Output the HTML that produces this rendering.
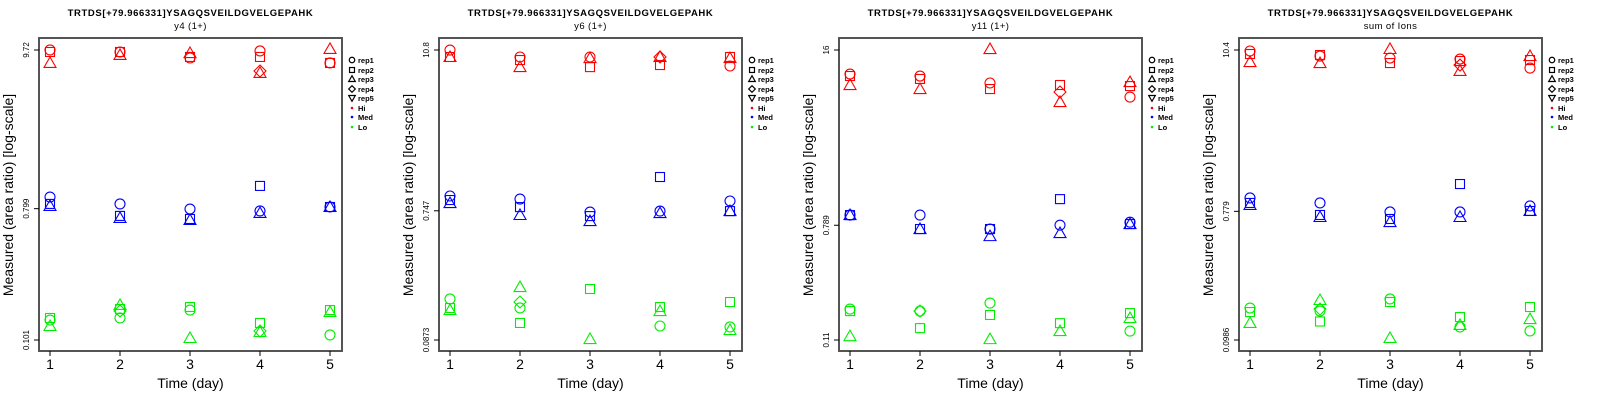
<!DOCTYPE html>
<html><head><meta charset="utf-8"><style>
html,body{margin:0;padding:0;background:#fff;}
svg{display:block;font-family:"Liberation Sans",sans-serif;}
</style></head><body>
<svg id="chart" width="1600" height="400"></svg>
<script>
const days=[1,2,3,4,5];
const repNames=["rep1","rep2","rep3","rep4","rep5"];
const groupNames=["Hi","Med","Lo"];
const titles=["y4 (1+)","y6 (1+)","y11 (1+)","sum of Ions"];
const tickLabels=[["9.72","0.799","0.101"],["10.8","0.747","0.0873"],["16","0.789","0.11"],["10.4","0.779","0.0986"]];
const tickValues=[[9.72,0.799,0.101],[10.8,0.747,0.0873],[16,0.789,0.11],[10.4,0.779,0.0986]];
// [day, rep index, group index, log10(ratio)]
const panel1=[[1,0,0,0.988],[1,1,0,0.974],[1,2,0,0.899],[2,1,0,0.974],[2,2,0,0.954],[2,0,0,0.974],[3,2,0,0.967],[3,1,0,0.940],[3,0,0,0.933],[4,0,0,0.981],[4,1,0,0.940],[4,3,0,0.844],[4,2,0,0.831],[5,2,0,0.995],[5,1,0,0.899],[5,0,0,0.899],
[1,0,1,-0.018],[1,1,1,-0.065],[1,2,1,-0.079],[2,0,1,-0.065],[2,1,1,-0.147],[2,2,1,-0.161],[3,0,1,-0.100],[3,1,1,-0.168],[3,2,1,-0.175],[4,1,1,0.058],[4,0,1,-0.113],[4,2,1,-0.127],[5,0,1,-0.086],[5,1,1,-0.086],[5,2,1,-0.086],
[1,1,2,-0.845],[1,0,2,-0.859],[1,2,2,-0.900],[2,2,2,-0.756],[2,1,2,-0.784],[2,3,2,-0.797],[2,0,2,-0.845],[3,1,2,-0.770],[3,0,2,-0.791],[3,2,2,-0.982],[4,1,2,-0.879],[4,3,2,-0.934],[4,2,2,-0.941],[5,1,2,-0.791],[5,2,2,-0.804],[5,0,2,-0.961]];
const panel2=[[1,0,0,1.033],[1,2,0,0.983],[1,1,0,0.983],[2,0,0,0.983],[2,1,0,0.961],[2,2,0,0.910],[3,0,0,0.983],[3,2,0,0.975],[3,1,0,0.910],[4,3,0,0.983],[4,2,0,0.983],[4,1,0,0.925],[5,1,0,0.983],[5,2,0,0.975],[5,0,0,0.918],
[1,0,1,-0.020],[1,1,1,-0.049],[1,2,1,-0.071],[2,0,1,-0.042],[2,1,1,-0.100],[2,2,1,-0.157],[3,0,1,-0.136],[3,1,1,-0.165],[3,2,1,-0.201],[4,1,1,0.117],[4,0,1,-0.129],[4,2,1,-0.143],[5,0,1,-0.056],[5,1,1,-0.129],[5,2,1,-0.129],
[1,0,2,-0.763],[1,1,2,-0.828],[1,2,2,-0.843],[2,2,2,-0.677],[2,3,2,-0.785],[2,0,2,-0.828],[2,1,2,-0.936],[3,1,2,-0.691],[3,2,2,-1.052],[4,1,2,-0.821],[4,2,2,-0.850],[4,0,2,-0.958],[5,1,2,-0.785],[5,0,2,-0.965],[5,2,2,-0.987]];
const panel3=[[1,0,0,1.025],[1,1,0,1.010],[1,2,0,0.943],[2,0,0,1.010],[2,1,0,0.988],[2,2,0,0.913],[3,2,0,1.211],[3,0,0,0.958],[3,1,0,0.913],[4,1,0,0.943],[4,3,0,0.891],[4,2,0,0.816],[5,2,0,0.965],[5,1,0,0.935],[5,0,0,0.853],
[1,0,1,-0.027],[1,1,1,-0.027],[1,2,1,-0.027],[2,0,1,-0.027],[2,1,1,-0.131],[2,2,1,-0.131],[3,1,1,-0.131],[3,0,1,-0.131],[3,2,1,-0.184],[4,1,1,0.092],[4,0,1,-0.102],[4,2,1,-0.161],[5,0,1,-0.080],[5,1,1,-0.094],[5,2,1,-0.094],
[1,0,2,-0.728],[1,1,2,-0.743],[1,2,2,-0.930],[2,0,2,-0.743],[2,3,2,-0.743],[2,1,2,-0.870],[3,0,2,-0.683],[3,1,2,-0.772],[3,2,2,-0.952],[4,1,2,-0.833],[4,2,2,-0.892],[5,1,2,-0.758],[5,2,2,-0.795],[5,0,2,-0.892]];
const panel4=[[1,0,0,1.010],[1,1,0,0.989],[1,2,0,0.933],[2,1,0,0.982],[2,0,0,0.975],[2,2,0,0.926],[3,2,0,1.024],[3,0,0,0.961],[3,1,0,0.926],[4,0,0,0.954],[4,1,0,0.940],[4,3,0,0.912],[4,2,0,0.871],[5,2,0,0.975],[5,1,0,0.947],[5,0,0,0.891],
[1,0,1,-0.015],[1,1,1,-0.050],[1,2,1,-0.064],[2,0,1,-0.050],[2,1,1,-0.134],[2,2,1,-0.148],[3,0,1,-0.113],[3,1,1,-0.162],[3,2,1,-0.183],[4,1,1,0.082],[4,0,1,-0.113],[4,2,1,-0.148],[5,0,1,-0.071],[5,1,1,-0.106],[5,2,1,-0.106],
[1,0,2,-0.783],[1,1,2,-0.811],[1,2,2,-0.887],[2,2,2,-0.727],[2,3,2,-0.790],[2,0,2,-0.804],[2,1,2,-0.877],[3,0,2,-0.720],[3,1,2,-0.741],[3,2,2,-0.992],[4,1,2,-0.846],[4,2,2,-0.901],[4,0,2,-0.915],[5,1,2,-0.776],[5,2,2,-0.860],[5,0,2,-0.943]];
const panels=[panel1,panel2,panel3,panel4];

const colors=["#ff0000","#0000ff","#00ee00"];
const NS="http://www.w3.org/2000/svg";
const svg=document.getElementById("chart");
function mk(tag,attrs,parent,text){const e=document.createElementNS(NS,tag);for(const k in attrs)e.setAttribute(k,attrs[k]);if(text!==undefined)e.textContent=text;parent.appendChild(e);return e;}
function shape(rep,cx,cy,col,s,parent,sw){
  let e;
  if(rep===0)e=mk("circle",{cx:cx,cy:cy,r:5*s},parent);
  else if(rep===1)e=mk("rect",{x:cx-4.5*s,y:cy-4.5*s,width:9*s,height:9*s},parent);
  else if(rep===2)e=mk("polygon",{points:`${cx},${cy-6*s} ${cx+6*s},${cy+4.5*s} ${cx-6*s},${cy+4.5*s}`},parent);
  else if(rep===3)e=mk("polygon",{points:`${cx},${cy-6*s} ${cx+6*s},${cy} ${cx},${cy+6*s} ${cx-6*s},${cy}`},parent);
  else e=mk("polygon",{points:`${cx},${cy+6*s} ${cx+6*s},${cy-4.5*s} ${cx-6*s},${cy-4.5*s}`},parent);
  e.setAttribute("fill","none");e.setAttribute("stroke",col);e.setAttribute("stroke-width",sw);
  return e;
}
panels.forEach((pts,pi)=>{
  const ox=pi*400+39, top=38, w=303, h=313;
  const g=mk("g",{},svg);
  
  
  const lmax=Math.log10(tickValues[pi][0]), lmin=Math.log10(tickValues[pi][2]);
  const xS=d=>ox+11+(d-1)*70;
  const yS=l=>50+(lmax-l)/(lmax-lmin)*290;
  const cx=ox+w/2;
  const t1=mk("text",{x:cx,y:16,"text-anchor":"middle","font-size":"9.5","font-weight":"bold","letter-spacing":"0.6"},g,"TRTDS[+79.966331]YSAGQSVEILDGVELGEPAHK");
  
  
  const t2=mk("text",{x:cx,y:29,"text-anchor":"middle","font-size":"9.5","letter-spacing":"0.4"},g,titles[pi]);
  
  
  // points
  pts.forEach(p=>{
    const m=shape(p[1],xS(p[0]),yS(p[3]),colors[p[2]],1,g,1.1);
    
    
  });
  const box=mk("rect",{x:ox,y:top,width:w,height:h,fill:"none",stroke:"#555",
"stroke-width":"2"},g);
  
  
  // x axis ticks
  days.forEach(d=>{
    const x=xS(d);
    const tk=mk("line",{x1:x,x2:x,y1:top+h,y2:top+h+5,stroke:"#000"},g);
    
    
    const tl=mk("text",{x:x,y:369,"text-anchor":"middle","font-size":"14"},g,String(d));
    
    
  });
  const xt=mk("text",{x:cx,y:388,"text-anchor":"middle","font-size":"14"},g,"Time (day)");
  
  
  // y ticks
  tickValues[pi].forEach((v,i)=>{
    const y=yS(Math.log10(v));
    const tk=mk("line",{x1:ox-5,x2:ox,y1:y,y2:y,stroke:"#000"},g);
    
    
    const tl=mk("text",{x:0,y:0,"text-anchor":"middle","font-size":"8",transform:`translate(${ox-10},${y}) rotate(-90)`},g,tickLabels[pi][i]);
    
    
  });
  const yt=mk("text",{x:0,y:0,"text-anchor":"middle","font-size":"14",transform:`translate(${ox-26},${195}) rotate(-90)`},g,"Measured (area ratio) [log-scale]");
  
  
  // legend
  const lg=mk("g",{},g);
  
  
  const lx=ox+w+10;
  const rows=[60,70,79,89,98,108,117,127];
  repNames.forEach((r,i)=>{
    const e=mk("g",{},lg);
    
    
    shape(i,lx,rows[i],"#000",0.55,e,1.2);
    mk("text",{x:lx+6,y:rows[i]+3,"font-size":"7.5","font-weight":"bold"},e,r);
  });
  groupNames.forEach((gn,i)=>{
    const e=mk("g",{},lg);
    
    
    mk("circle",{cx:lx,cy:rows[5+i],r:1.3,fill:colors[i]},e);
    mk("text",{x:lx+6,y:rows[5+i]+3,"font-size":"7.5","font-weight":"bold"},e,gn);
  });
});
</script>
</body></html>
